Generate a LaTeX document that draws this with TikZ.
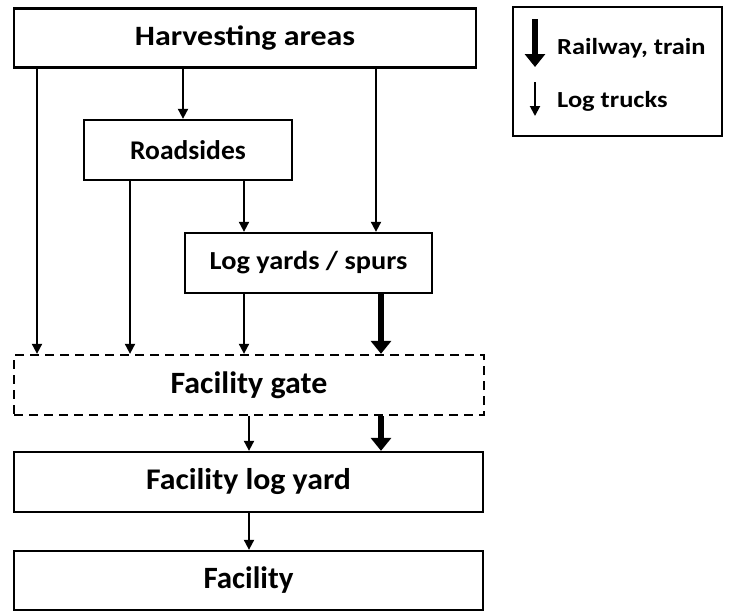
\documentclass[tikz,border=0pt]{standalone}
\usepackage{fontspec}
\setmainfont{Carlito}
\usetikzlibrary{arrows.meta}
\newcommand{\fsz}[2]{\bfseries\fontsize{#1}{#1}\selectfont\addfontfeatures{FakeStretch=#2}}
\begin{document}
\begin{tikzpicture}[x=1pt,y=-1pt,
  box/.style={draw=black,line width=2.3pt,minimum height=59pt,inner sep=0pt},
  dbox/.style={draw=black,line width=2.3pt,dash pattern=on 9pt off 6pt,minimum height=60pt,inner sep=0pt},
  truck/.style={line width=1.9pt,-{Triangle[length=10pt,width=10pt]}},
  rail/.style={line width=6.5pt,-{Triangle[length=13pt,width=20pt]}},
  lbl/.style={anchor=west,inner sep=0pt}]
\useasboundingbox (0,0) rectangle (730,613);
\node[box,minimum width=462pt,font=\fsz{28}{1.14}] (harv) at (245,38) {Harvesting areas};
\node[box,minimum width=208pt,minimum height=60pt,font=\fsz{27}{1.02}] (road) at (188,150) {Roadsides};
\node[box,minimum width=247pt,minimum height=60pt,font=\fsz{26}{1.09}] (ly) at (308.5,263) {Log yards / spurs};
\node[dbox,minimum width=470pt,font=\fsz{31}{1.03}] (gate) at (249,385) {Facility gate};
\node[box,minimum width=469pt,minimum height=60pt,font=\fsz{30}{1.06}] (fly) at (248.5,482) {Facility log yard};
\node[box,minimum width=469pt,font=\fsz{31}{1.0}] (fac) at (248.5,580.5) {Facility};
\node[draw=black,line width=2.3pt,minimum width=209pt,minimum height=129pt,inner sep=0pt] (leg) at (617.5,71.5) {};
\coordinate (x1) at (37,0);
\coordinate (x2) at (183,0);
\coordinate (x3) at (376,0);
\coordinate (x4) at (130,0);
\coordinate (x5) at (244,0);
\coordinate (x6) at (381,0);
\coordinate (x7) at (249,0);
\draw[truck] (x1 |- harv.south) -- (x1 |- gate.north);
\draw[truck] (x2 |- harv.south) -- (x2 |- road.north);
\draw[truck] (x3 |- harv.south) -- (x3 |- ly.north);
\draw[truck] (x4 |- road.south) -- (x4 |- gate.north);
\draw[truck] (x5 |- road.south) -- (x5 |- ly.north);
\draw[truck] (x5 |- ly.south) -- (x5 |- gate.north);
\draw[rail] (x6 |- ly.south) -- (x6 |- gate.north);
\draw[truck] (x7 |- gate.south) -- (x7 |- fly.north);
\draw[rail] (x6 |- gate.south) -- (x6 |- fly.north);
\draw[truck] (x7 |- fly.south) -- (x7 |- fac.north);
\coordinate (ra) at (535,19);
\coordinate (rb) at (535,67);
\coordinate (ta) at (535,82);
\coordinate (tb) at (535,116);
\draw[rail] (ra) -- (rb);
\draw[truck] (ta) -- (tb);
\node[lbl,font=\fsz{23}{1.15}] (lr) at (557,48) {Railway, train};
\node[lbl,font=\fsz{23}{1.15}] (lt) at (557,101) {Log trucks};
\end{tikzpicture}
\end{document}
